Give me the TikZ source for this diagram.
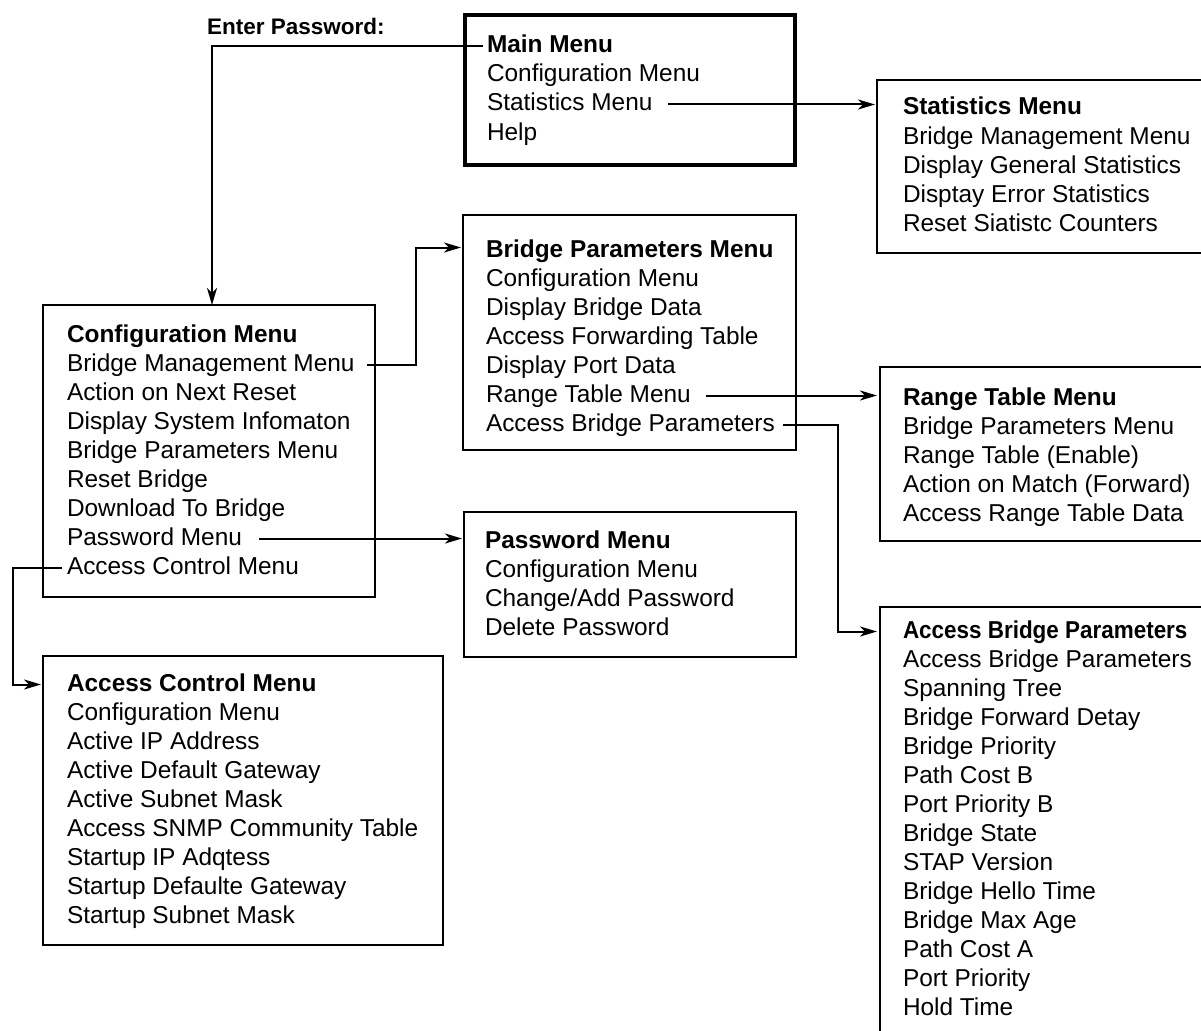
\documentclass[tikz,border=0pt]{standalone}
\usepackage{fontspec}
\setmainfont{Liberation Sans}
\usetikzlibrary{arrows.meta,fit}
\tikzset{
  row/.style={anchor=base west, inner sep=0pt, outer sep=0pt, text height=19pt, text depth=6pt, font=\fontsize{24.4}{29}\selectfont},
  head/.style={row, font=\fontsize{24.4}{29}\selectfont\bfseries},
  menubox/.style={draw, line width=2pt, inner sep=0pt, outer sep=0pt},
  mainbox/.style={menubox, line width=4pt},
  conn/.style={line width=2pt},
  arr/.style={conn, -{Stealth[length=17pt,width=10pt,inset=5pt]}},
}
\begin{document}
\begin{tikzpicture}[x=1pt,y=-1pt]
\useasboundingbox (0,0) rectangle (1201,1030);
\clip (0,0) rectangle (1201,1030);

% boxes
\node[mainbox, fit={(465,15) (795,165)}] (mm) {};
\node[menubox, fit={(43,305) (375,597)}] (cfg) {};
\node[menubox, fit={(463,215) (796,450)}] (bp) {};
\node[menubox, fit={(464,512) (796,657)}] (pw) {};
\node[menubox, fit={(43,656) (443,945)}] (acm) {};
\node[menubox, fit={(877,80) (1206,253)}] (st) {};
\node[menubox, fit={(880,367) (1206,541)}] (rg) {};
\node[menubox, fit={(880,607) (1206,1045)}] (abp) {};

% label
\node[anchor=base west, inner sep=0pt, font=\fontsize{22.5}{27}\selectfont\bfseries] (ep) at (207,35) {Enter Password:};

% Main menu
\node[head] (m0) at (487,53) {Main Menu};
\foreach \t [count=\i] in {Configuration Menu, Statistics Menu, Help}
  \node[row] (m\i) at (487,{53+29*\i}) {\t};

% Statistics menu
\node[head] (s0) at (903,115) {Statistics Menu};
\foreach \t [count=\i] in {Bridge Management Menu, Display General Statistics, Disptay Error Statistics, Reset Siatistc Counters}
  \node[row] (s\i) at (903,{115+29*\i}) {\t};

% Configuration menu
\node[head] (c0) at (67,342) {Configuration Menu};
\foreach \t [count=\i] in {Bridge Management Menu, Action on Next Reset, Display System Infomaton, Bridge Parameters Menu, Reset Bridge, Download To Bridge, Password Menu, Access Control Menu}
  \node[row] (c\i) at (67,{342+29*\i}) {\t};

% Bridge parameters menu
\node[head] (b0) at (486,257) {Bridge Parameters Menu};
\foreach \t [count=\i] in {Configuration Menu, Display Bridge Data, Access Forwarding Table, Display Port Data, Range Table Menu, Access Bridge Parameters}
  \node[row] (b\i) at (486,{257+29*\i}) {\t};

% Range table menu
\node[head] (r0) at (903,405) {Range Table Menu};
\foreach \t [count=\i] in {Bridge Parameters Menu, Range Table (Enable), Action on Match (Forward), Access Range Table Data}
  \node[row] (r\i) at (903,{405+29*\i}) {\t};

% Password menu
\node[head] (w0) at (485,548) {Password Menu};
\foreach \t [count=\i] in {Configuration Menu, Change/Add Password, Delete Password}
  \node[row] (w\i) at (485,{548+29*\i}) {\t};

% Access control menu
\node[head] (a0) at (67,691) {Access Control Menu};
\foreach \t [count=\i] in {Configuration Menu, Active IP Address, Active Default Gateway, Active Subnet Mask, Access SNMP Community Table, Startup IP Adqtess, Startup Defaulte Gateway, Startup Subnet Mask}
  \node[row] (a\i) at (67,{691+29*\i}) {\t};

% Access bridge parameters
\node[row] (p0) at (903,638) {\scalebox{0.92}[1]{\bfseries Access Bridge Parameters}};
\foreach \t [count=\i] in {Access Bridge Parameters, Spanning Tree, Bridge Forward Detay, Bridge Priority, Path Cost B, Port Priority B, Bridge State, STAP Version, Bridge Hello Time, Bridge Max Age, Path Cost A, Port Priority, Hold Time}
  \node[row] (p\i) at (903,{638+29*\i}) {\t};

% connectors
\coordinate (epx) at (212,46);
\draw[arr] ([xshift=-4pt]m0.west) -| (epx |- cfg.north);
\draw[arr] ([xshift=16pt]m2.east) -- ([xshift=-2pt]m2.east -| st.west);
\draw[arr] ([xshift=12pt]c1.east) -- ++(49,0) |- ([yshift=3pt,xshift=-2pt]b0.west -| bp.west);
\draw[arr] ([xshift=17pt]c7.east) -- ([xshift=-2pt]c7.east -| pw.west);
\draw[arr] ([xshift=-5pt]c8.west) -- ++(-49,0) |- ([xshift=-2pt]a0.west -| acm.west);
\draw[arr] ([xshift=15pt]b5.east) -- ([xshift=-3pt]b5.east -| rg.west);
\draw[arr] ([xshift=8pt]b6.east) -- ++(55,0) |- ([xshift=-3pt]p0.west -| abp.west);
\end{tikzpicture}
\end{document}
